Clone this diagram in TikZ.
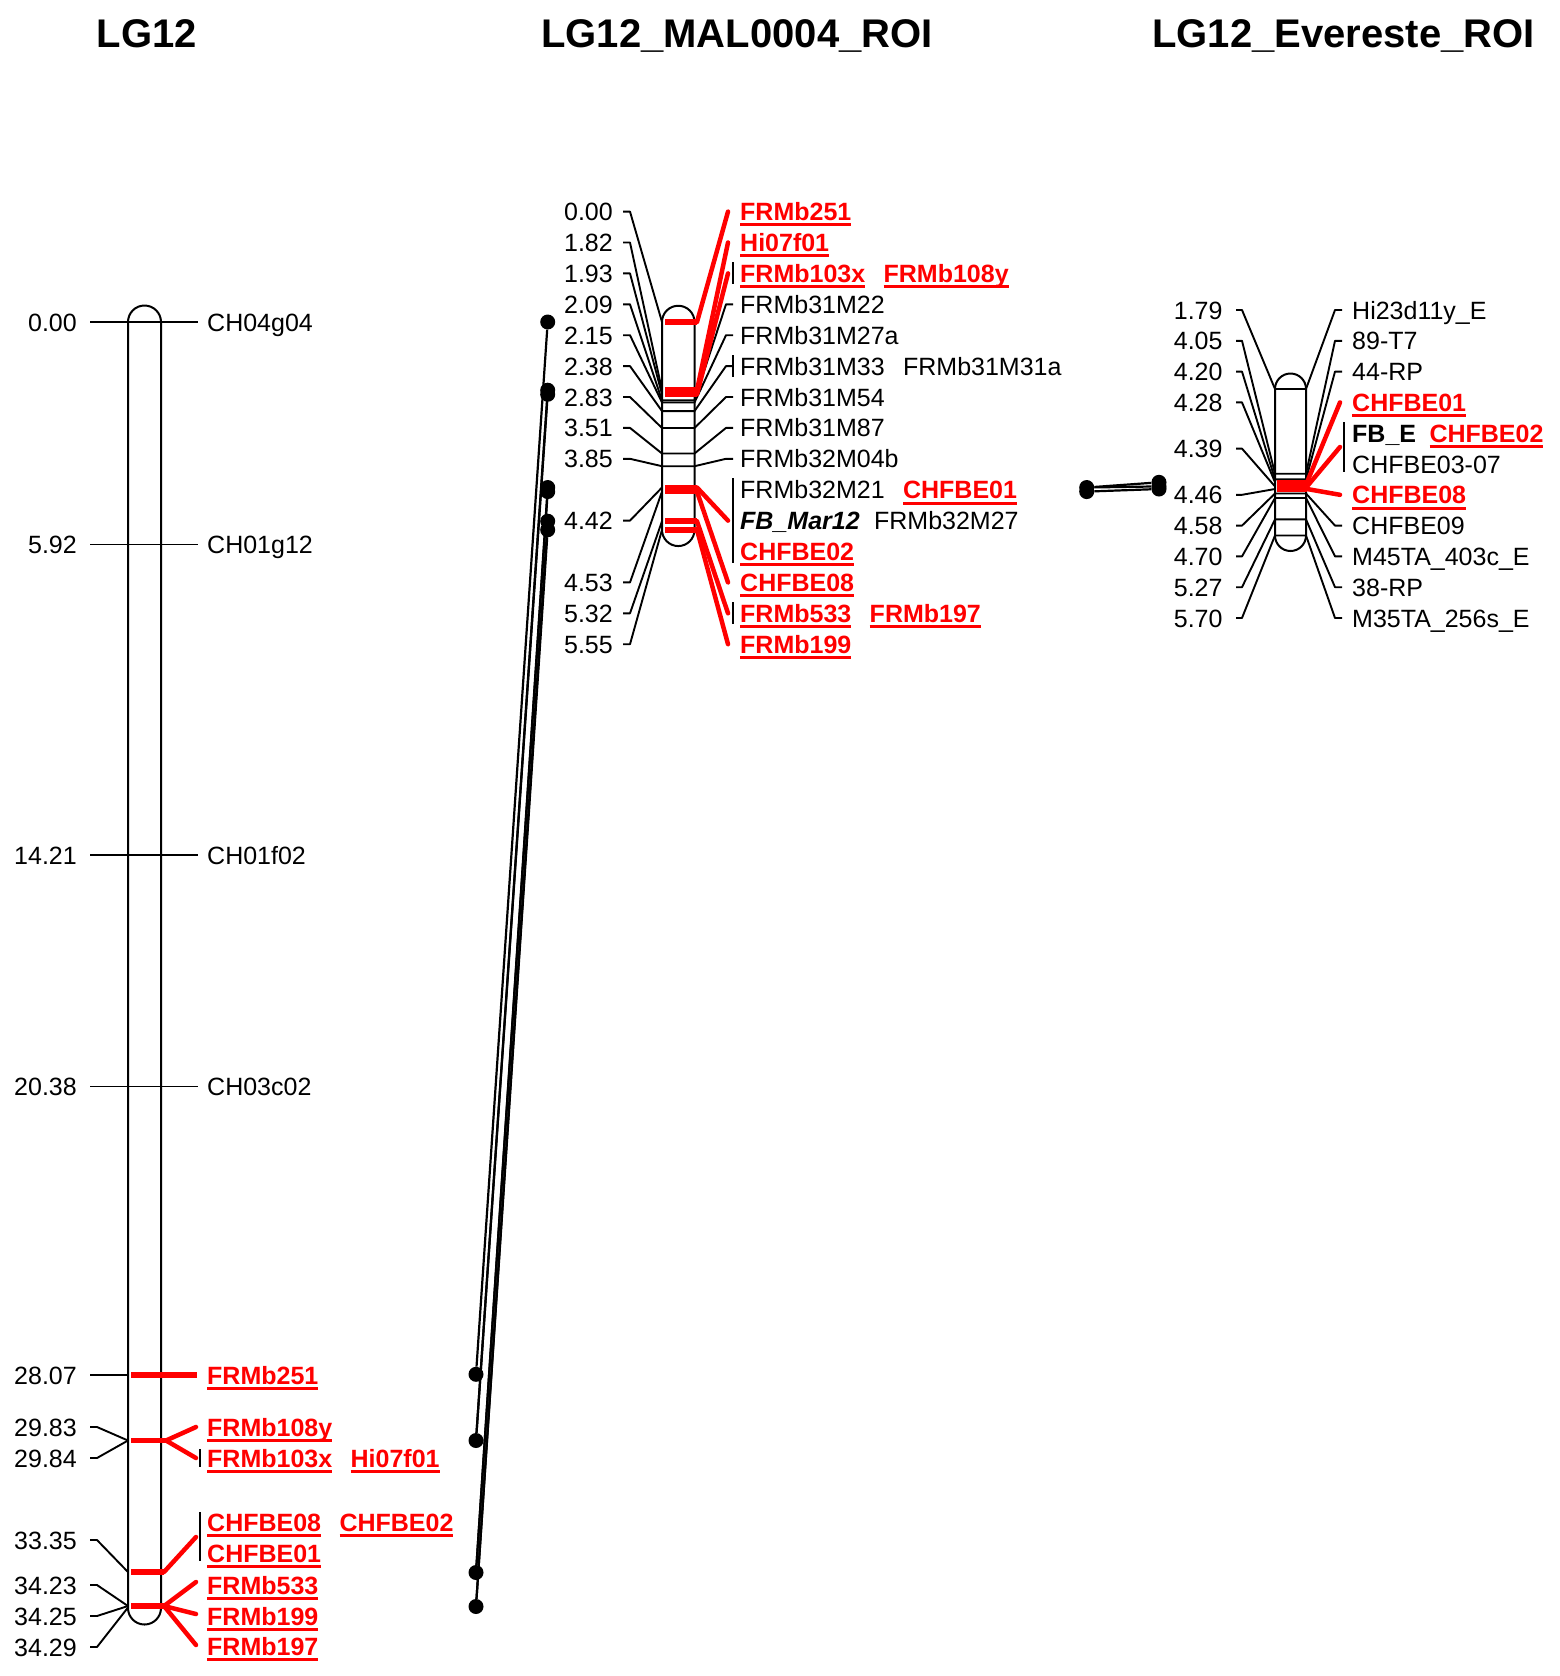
\documentclass[tikz,border=0pt]{standalone}
\usepackage{fontspec}
\setmainfont{Liberation Sans}
\usetikzlibrary{positioning}
\begin{document}
\begin{tikzpicture}[x=1pt,y=-1pt,
		chrom/.style={line width=2pt},
		tick/.style={line width=1.9pt,line join=round},
		redtick/.style={draw=red,line width=5.5pt},
		redlead/.style={draw=red,line width=4.5pt,line cap=round},
		grpbar/.style={line width=1.9pt},
		link/.style={line width=2.2pt},
		dot/.style={circle,fill=black,inner sep=0pt,minimum size=15pt},
		num/.style={anchor=base east,inner sep=0pt,yshift=-9pt,font=\myfontmap},
		lab/.style={anchor=base west,inner sep=0pt,yshift=-9pt,font=\myfontmap},
		nextlab/.style={anchor=base west,inner sep=0pt,font=\myfontmap},
		hit/.style={text=red,font=\myfontmap\bfseries},
		maptitle/.style={anchor=base,inner sep=0pt,font=\myfonttitle}]
			\newcommand{\myfontmap}{\fontsize{25}{30}\selectfont}
			\newcommand{\myfonttitle}{\fontsize{40}{48}\selectfont\bfseries}
			\newcommand{\myul}[1]{\setbox0=\hbox{#1}\rlap{\rule[-5.8pt]{\wd0}{3pt}}\box0}
			\useasboundingbox (0,0) rectangle (1559,1676);
			%Titles
			\node[maptitle] (tLG) at (147,47.5) {LG12};
			\node[maptitle] (tMAL) at (737,47.5) {LG12\_MAL0004\_ROI};
			\node[maptitle] (tEV) at (1343.6,47.5) {LG12\_Evereste\_ROI};
			%
			%Chromosome LG12
			\draw[chrom] (128,322) -- (128,1608) arc (180:360:16.5pt) -- (161,322) arc (0:180:16.5pt) -- cycle;
			%Framework loci
			\foreach \i/\ly/\cm/\mk in {1/322.0/0.00/CH04g04,2/544.5/5.92/CH01g12,3/855.0/14.21/CH01f02,4/1086.5/20.38/CH03c02} {
				\coordinate (aS\i) at (90,\ly);
				\coordinate (aE\i) at (198,\ly);
				\draw[tick] (aS\i) -- (aE\i);
				\node[num] (an\i) at (77,\ly) {\cm};
				\node[lab] (am\i) at (207,\ly) {\mk};
			}
			%Left leaders of the red loci
			\coordinate (aS5) at (90,1375);
			\coordinate (aL5) at (128,1375);
			\coordinate (aS6) at (90,1427);
			\coordinate (aS7) at (90,1458);
			\coordinate (aL6) at (128,1440.5);
			\coordinate (aS8) at (90,1540);
			\coordinate (aL8) at (128,1572);
			\coordinate (aS9) at (90,1585);
			\coordinate (aS10) at (90,1616);
			\coordinate (aS11) at (90,1647);
			\coordinate (aL9) at (128,1606);
			\coordinate (aL11) at (128,1607.5);
			\draw[tick] (aS5) -- (aL5);
			\draw[tick] (aS6) -- ++(7,0) -- (aL6);
			\draw[tick] (aS7) -- ++(7,0) -- (aL6);
			\draw[tick] (aS8) -- ++(7,0) -- (aL8);
			\draw[tick] (aS9) -- ++(7,0) -- (aL9);
			\draw[tick] (aS10) -- ++(7,0) -- (aL9);
			\draw[tick] (aS11) -- ++(7,0) -- (aL11);
			\node[num] (an5) at (77,1375) {28.07};
			\node[num] (an6) at (77,1427) {29.83};
			\node[num] (an7) at (77,1458) {29.84};
			\node[num] (an8) at (77,1540) {33.35};
			\node[num] (an9) at (77,1585) {34.23};
			\node[num] (an10) at (77,1616) {34.25};
			\node[num] (an11) at (77,1647) {34.29};
			%Red loci
			\coordinate (aI5) at (131,1375);
			\coordinate (aE5) at (197,1375);
			\draw[redtick] (aI5) -- (aE5);
			\coordinate (aI6) at (131,1440.5);
			\coordinate (aK6) at (166,1440.5);
			\coordinate (aT6) at (196,1427);
			\coordinate (aT7) at (196,1458);
			\draw[redtick] (aI6) -- (aK6);
			\draw[redlead] (aK6) -- (aT6);
			\draw[redlead] (aK6) -- (aT7);
			\coordinate (aI8) at (131,1572);
			\coordinate (aK8) at (164,1572);
			\coordinate (aT8) at (196,1537);
			\draw[redtick] (aI8) -- (aK8);
			\draw[redlead] (aK8) -- (aT8);
			\coordinate (aI9) at (131,1606);
			\coordinate (aK9) at (164,1606);
			\coordinate (aT9) at (196,1582);
			\coordinate (aT10) at (196,1614);
			\coordinate (aT11) at (196,1645);
			\draw[redtick] (aI9) -- (aK9);
			\draw[redlead] (aK9) -- (aT9);
			\draw[redlead] (aK9) -- (aT10);
			\draw[redlead] (aK9) -- (aT11);
			%Marker names
			\node[lab,hit] (am5) at (207,1375) {\myul{FRMb251}};
			\node[lab,hit] (am6) at (207,1427) {\myul{FRMb108y}};
			\node[lab,hit] (am7) at (207,1458) {\myul{FRMb103x}};
			\node[nextlab,hit,base right=18pt of am7] (am7b) {\myul{Hi07f01}};
			\node[lab,hit] (am8) at (207,1522) {\myul{CHFBE08}};
			\node[nextlab,hit,base right=18pt of am8] (am8b) {\myul{CHFBE02}};
			\node[lab,hit] (am8c) at (207,1553) {\myul{CHFBE01}};
			\node[lab,hit] (am9) at (207,1585) {\myul{FRMb533}};
			\node[lab,hit] (am10) at (207,1616) {\myul{FRMb199}};
			\node[lab,hit] (am11) at (207,1646) {\myul{FRMb197}};
			%Bars of shared rows
			\coordinate (aB7) at (200,1449);
			\coordinate (aB8) at (200,1512);
			\draw[grpbar] (aB7) -- ++(0,18);
			\draw[grpbar] (aB8) -- ++(0,49);
			%
			%Chromosome LG12_MAL0004_ROI
			\draw[chrom] (662,322) -- (662,529.8) arc (180:360:16.25pt) -- (694.5,322) arc (0:180:16.25pt) -- cycle;
			%Black loci
			\foreach \i/\ly/\ry/\cm/\mk in {3/400.3/304.3/2.09/FRMb31M22,4/402.5/335.2/2.15/FRMb31M27a,5/411.1/366.1/2.38/FRMb31M33,6/428.0/397.0/2.83/FRMb31M54,7/453.5/427.9/3.51/FRMb31M87,8/466.2/458.8/3.85/FRMb32M04b} {
				\coordinate (mS\i) at (623,\ry);
				\coordinate (mL\i) at (662,\ly);
				\coordinate (mR\i) at (694.5,\ly);
				\coordinate (mT\i) at (726,\ry);
				\draw[tick] (mS\i) -- ++(7,0) -- (mL\i) -- (mR\i) -- (mT\i) -- ++(7,0);
				\node[num] (mn\i) at (613,\ry) {\cm};
				\node[lab] (mm\i) at (740,\ry) {\mk};
			}
			%Red loci
			\foreach \i/\ly/\ry/\cm in {0/322.0/211.6/0.00,1/390.2/242.5/1.82,2/394.3/273.4/1.93,9/487.5/520.6/4.42,10/491.6/582.4/4.53,11/521.2/613.3/5.32,12/529.8/644.2/5.55} {
				\coordinate (mS\i) at (623,\ry);
				\coordinate (mL\i) at (662,\ly);
				\coordinate (mI\i) at (665,\ly);
				\coordinate (mK\i) at (697,\ly);
				\coordinate (mT\i) at (728,\ry);
				\draw[tick] (mS\i) -- ++(7,0) -- (mL\i);
				\node[num] (mn\i) at (613,\ry) {\cm};
			}
			\foreach \i in {0,1,2,9,10,11,12} {
				\draw[redtick] (mI\i) -- (mK\i);
				\draw[redlead] (mK\i) -- (mT\i);
			}
			%Marker names
			\node[nextlab,base right=18pt of mm5] (mm5b) {FRMb31M31a};
			\node[lab,hit] (mm0) at (740,211.6) {\myul{FRMb251}};
			\node[lab,hit] (mm1) at (740,242.5) {\myul{Hi07f01}};
			\node[lab,hit] (mm2) at (740,273.4) {\myul{FRMb103x}};
			\node[nextlab,hit,base right=18pt of mm2] (mm2b) {\myul{FRMb108y}};
			\node[lab] (mm9) at (740,489.7) {FRMb32M21};
			\node[nextlab,hit,base right=18pt of mm9] (mm9b) {\myul{CHFBE01}};
			\node[lab,font=\myfontmap\bfseries\itshape] (mm9c) at (740,520.6) {FB\_Mar12};
			\node[nextlab,base right=14pt of mm9c] (mm9d) {FRMb32M27};
			\node[lab,hit] (mm9e) at (740,551.5) {\myul{CHFBE02}};
			\node[lab,hit] (mm10) at (740,582.4) {\myul{CHFBE08}};
			\node[lab,hit] (mm11) at (740,613.3) {\myul{FRMb533}};
			\node[nextlab,hit,base right=18pt of mm11] (mm11b) {\myul{FRMb197}};
			\node[lab,hit] (mm12) at (740,644.2) {\myul{FRMb199}};
			%Bars of shared rows
			\coordinate (mB2) at (733,262);
			\coordinate (mB5) at (733,355);
			\coordinate (mB9) at (733,478);
			\coordinate (mB11) at (733,602);
			\draw[grpbar] (mB2) -- ++(0,22);
			\draw[grpbar] (mB5) -- ++(0,22);
			\draw[grpbar] (mB9) -- ++(0,85);
			\draw[grpbar] (mB11) -- ++(0,22);
			%
			%Chromosome LG12_Evereste_ROI
			\draw[chrom] (1275,389) -- (1275,535.5) arc (180:360:15.5pt) -- (1306,389) arc (0:180:15.5pt) -- cycle;
			%Black loci
			\foreach \i/\ly/\ry/\cm/\mk in {0/389.0/310.0/1.79/Hi23d11y\_E,1/473.7/340.8/4.05/89-T7,2/479.3/371.6/4.20/44-RP,6/493.5/525.6/4.58/CHFBE09,7/498.0/556.4/4.70/M45TA\_403c\_E,8/519.4/587.2/5.27/38-RP,9/535.5/618.0/5.70/M35TA\_256s\_E} {
				\coordinate (eS\i) at (1236,\ry);
				\coordinate (eL\i) at (1275,\ly);
				\coordinate (eR\i) at (1306,\ly);
				\coordinate (eT\i) at (1335,\ry);
				\draw[tick] (eS\i) -- ++(6,0) -- (eL\i) -- (eR\i) -- (eT\i) -- ++(7,0);
				\node[num] (en\i) at (1222.7,\ry) {\cm};
				\node[lab] (em\i) at (1352,\ry) {\mk};
			}
			%Red loci
			\foreach \i/\ly/\ry/\ty/\cm in {3/482.3/402.4/402.4/4.28,4/486.4/448.6/447.0/4.39,5/489.0/494.8/494.8/4.46} {
				\coordinate (eS\i) at (1236,\ry);
				\coordinate (eL\i) at (1275,\ly);
				\coordinate (eI\i) at (1277,\ly);
				\coordinate (eK\i) at (1307,\ly);
				\coordinate (eT\i) at (1340,\ty);
				\draw[tick] (eS\i) -- ++(6,0) -- (eL\i);
				\node[num] (en\i) at (1222.7,\ry) {\cm};
			}
			\foreach \i in {3,4,5} {
				\draw[redtick] (eI\i) -- (eK\i);
				\draw[redlead] (eK\i) -- (eT\i);
			}
			%Marker names
			\node[lab,hit] (em3) at (1352,402.4) {\myul{CHFBE01}};
			\node[lab,font=\myfontmap\bfseries] (em4) at (1352,433.2) {FB\_E};
			\node[nextlab,hit,base right=13pt of em4] (em4b) {\myul{CHFBE02}};
			\node[lab] (em4c) at (1352,464.0) {CHFBE03-07};
			\node[lab,hit] (em5) at (1352,494.8) {\myul{CHFBE08}};
			%Bar of shared rows
			\coordinate (eB4) at (1344,422);
			\draw[grpbar] (eB4) -- ++(0,50);
			%
			%Links between the maps
			\node[dot] (ad5) at (476,1374.3) {};
			\node[dot] (ad6) at (476,1440.5) {};
			\node[dot] (ad8) at (476,1572.5) {};
			\node[dot] (ad9) at (476,1606.5) {};
			\node[dot] (md0) at (547.7,322.0) {};
			\node[dot] (md1) at (547.7,390.2) {};
			\node[dot] (md2) at (547.7,394.3) {};
			\node[dot] (md9) at (547.7,487.5) {};
			\node[dot] (md10) at (547.7,491.6) {};
			\node[dot] (md11) at (547.7,521.2) {};
			\node[dot] (md12) at (547.7,529.8) {};
			\draw[link] (md0) -- (ad5);
			\draw[link] (md1) -- (ad6);
			\draw[link] (md2) -- (ad6);
			\draw[link] (md9) -- (ad8);
			\draw[link] (md10) -- (ad8);
			\draw[link] (md11) -- (ad9);
			\draw[link] (md12) -- (ad9);
			\node[dot] (mx9) at (1086.7,487.5) {};
			\node[dot] (mx10) at (1086.7,491.6) {};
			\node[dot] (ed3) at (1159,482.3) {};
			\node[dot] (ed4) at (1159,486.4) {};
			\node[dot] (ed5) at (1159,489.0) {};
			\draw[link] (mx9) -- (ed3);
			\draw[link] (mx9) -- (ed4);
			\draw[link] (mx10) -- (ed5);
\end{tikzpicture}
\end{document}
